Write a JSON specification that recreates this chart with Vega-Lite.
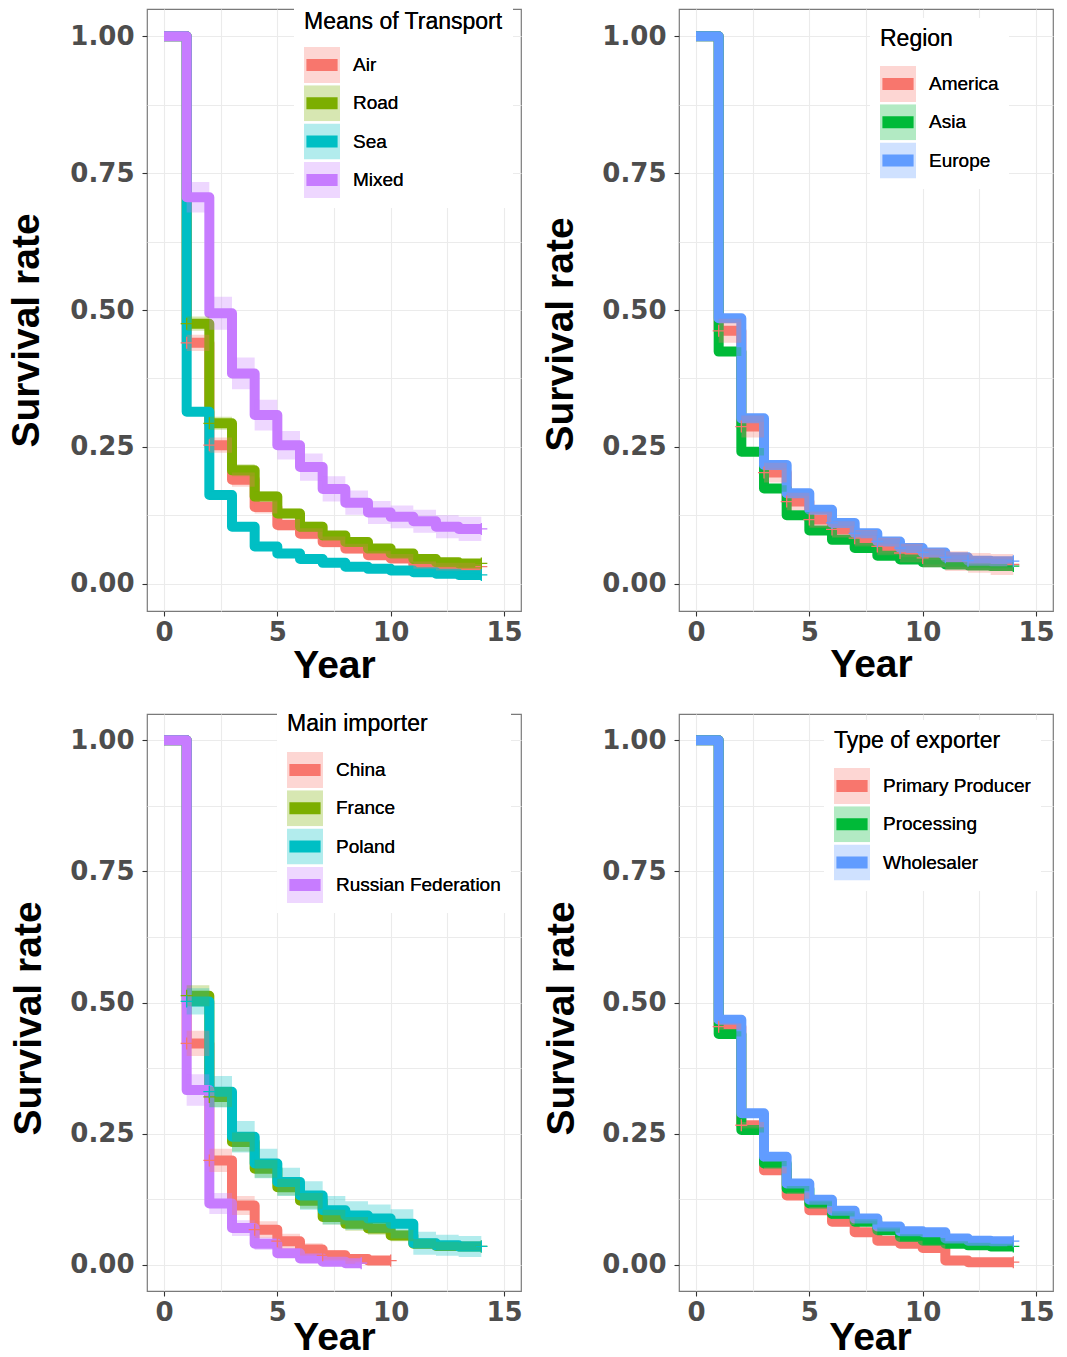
{
"$schema": "https://vega.github.io/schema/vega-lite/v6.json",
"background": "white",
"padding": {"left": 6, "top": 0, "right": 8, "bottom": 0},
"datasets": {
"p1": [
{"g":"Air","t":0,"s":1,"lo":1,"hi":1},{"g":"Air","t":1,"s":0.44,"lo":0.425,"hi":0.455},{"g":"Air","t":2,"s":0.253,"lo":0.239,"hi":0.267},{"g":"Air","t":3,"s":0.19,"lo":0.177,"hi":0.203},{"g":"Air","t":4,"s":0.14,"lo":0.128,"hi":0.152},{"g":"Air","t":5,"s":0.107,"lo":0.096,"hi":0.118},{"g":"Air","t":6,"s":0.091,"lo":0.081,"hi":0.101},{"g":"Air","t":7,"s":0.076,"lo":0.066,"hi":0.086},{"g":"Air","t":8,"s":0.064,"lo":0.055,"hi":0.073},{"g":"Air","t":9,"s":0.052,"lo":0.044,"hi":0.06},{"g":"Air","t":10,"s":0.046,"lo":0.038,"hi":0.054},{"g":"Air","t":11,"s":0.034,"lo":0.027,"hi":0.041},{"g":"Air","t":12,"s":0.031,"lo":0.024,"hi":0.038},{"g":"Air","t":13,"s":0.031,"lo":0.024,"hi":0.038},{"g":"Air","t":14,"s":0.031,"lo":0.024,"hi":0.038},
{"g":"Road","t":0,"s":1,"lo":1,"hi":1},{"g":"Road","t":1,"s":0.475,"lo":0.462,"hi":0.488},{"g":"Road","t":2,"s":0.293,"lo":0.281,"hi":0.305},{"g":"Road","t":3,"s":0.207,"lo":0.196,"hi":0.218},{"g":"Road","t":4,"s":0.159,"lo":0.149,"hi":0.169},{"g":"Road","t":5,"s":0.128,"lo":0.119,"hi":0.137},{"g":"Road","t":6,"s":0.104,"lo":0.095,"hi":0.113},{"g":"Road","t":7,"s":0.088,"lo":0.08,"hi":0.096},{"g":"Road","t":8,"s":0.076,"lo":0.068,"hi":0.084},{"g":"Road","t":9,"s":0.064,"lo":0.057,"hi":0.071},{"g":"Road","t":10,"s":0.055,"lo":0.048,"hi":0.062},{"g":"Road","t":11,"s":0.045,"lo":0.039,"hi":0.051},{"g":"Road","t":12,"s":0.039,"lo":0.033,"hi":0.045},{"g":"Road","t":13,"s":0.037,"lo":0.031,"hi":0.043},{"g":"Road","t":14,"s":0.037,"lo":0.031,"hi":0.043},
{"g":"Sea","t":0,"s":1,"lo":1,"hi":1},{"g":"Sea","t":1,"s":0.314,"lo":0.307,"hi":0.321},{"g":"Sea","t":2,"s":0.162,"lo":0.156,"hi":0.168},{"g":"Sea","t":3,"s":0.104,"lo":0.099,"hi":0.109},{"g":"Sea","t":4,"s":0.068,"lo":0.064,"hi":0.072},{"g":"Sea","t":5,"s":0.055,"lo":0.051,"hi":0.059},{"g":"Sea","t":6,"s":0.045,"lo":0.041,"hi":0.049},{"g":"Sea","t":7,"s":0.038,"lo":0.035,"hi":0.041},{"g":"Sea","t":8,"s":0.031,"lo":0.028,"hi":0.034},{"g":"Sea","t":9,"s":0.027,"lo":0.024,"hi":0.03},{"g":"Sea","t":10,"s":0.024,"lo":0.021,"hi":0.027},{"g":"Sea","t":11,"s":0.021,"lo":0.018,"hi":0.024},{"g":"Sea","t":12,"s":0.018,"lo":0.015,"hi":0.021},{"g":"Sea","t":13,"s":0.016,"lo":0.013,"hi":0.019},{"g":"Sea","t":14,"s":0.016,"lo":0.013,"hi":0.019},
{"g":"Mixed","t":0,"s":1,"lo":1,"hi":1},{"g":"Mixed","t":1,"s":0.706,"lo":0.678,"hi":0.734},{"g":"Mixed","t":2,"s":0.494,"lo":0.464,"hi":0.524},{"g":"Mixed","t":3,"s":0.384,"lo":0.355,"hi":0.413},{"g":"Mixed","t":4,"s":0.308,"lo":0.28,"hi":0.336},{"g":"Mixed","t":5,"s":0.253,"lo":0.227,"hi":0.279},{"g":"Mixed","t":6,"s":0.213,"lo":0.188,"hi":0.238},{"g":"Mixed","t":7,"s":0.173,"lo":0.15,"hi":0.196},{"g":"Mixed","t":8,"s":0.148,"lo":0.126,"hi":0.17},{"g":"Mixed","t":9,"s":0.13,"lo":0.109,"hi":0.151},{"g":"Mixed","t":10,"s":0.122,"lo":0.101,"hi":0.143},{"g":"Mixed","t":11,"s":0.114,"lo":0.093,"hi":0.135},{"g":"Mixed","t":12,"s":0.104,"lo":0.083,"hi":0.125},{"g":"Mixed","t":13,"s":0.1,"lo":0.078,"hi":0.122},{"g":"Mixed","t":14,"s":0.1,"lo":0.078,"hi":0.122}
],
"c1": [
{"g":"Air","t":1,"s":0.44},{"g":"Air","t":2,"s":0.253},{"g":"Air","t":14,"s":0.031},
{"g":"Road","t":1,"s":0.475},{"g":"Road","t":2,"s":0.293},{"g":"Road","t":14,"s":0.037},
{"g":"Sea","t":14,"s":0.016},
{"g":"Mixed","t":14,"s":0.1}
],
"p2": [
{"g":"America","t":0,"s":1,"lo":1,"hi":1},{"g":"America","t":1,"s":0.462,"lo":0.44,"hi":0.484},{"g":"America","t":2,"s":0.287,"lo":0.267,"hi":0.307},{"g":"America","t":3,"s":0.203,"lo":0.185,"hi":0.221},{"g":"America","t":4,"s":0.15,"lo":0.134,"hi":0.166},{"g":"America","t":5,"s":0.117,"lo":0.102,"hi":0.132},{"g":"America","t":6,"s":0.099,"lo":0.084,"hi":0.114},{"g":"America","t":7,"s":0.083,"lo":0.068,"hi":0.098},{"g":"America","t":8,"s":0.068,"lo":0.052,"hi":0.084},{"g":"America","t":9,"s":0.056,"lo":0.039,"hi":0.073},{"g":"America","t":10,"s":0.047,"lo":0.03,"hi":0.064},{"g":"America","t":11,"s":0.041,"lo":0.023,"hi":0.059},{"g":"America","t":12,"s":0.038,"lo":0.02,"hi":0.056},{"g":"America","t":13,"s":0.035,"lo":0.016,"hi":0.054},{"g":"America","t":14,"s":0.035,"lo":0.016,"hi":0.054},
{"g":"Asia","t":0,"s":1,"lo":1,"hi":1},{"g":"Asia","t":1,"s":0.424,"lo":0.416,"hi":0.432},{"g":"Asia","t":2,"s":0.241,"lo":0.234,"hi":0.248},{"g":"Asia","t":3,"s":0.174,"lo":0.168,"hi":0.18},{"g":"Asia","t":4,"s":0.125,"lo":0.119,"hi":0.131},{"g":"Asia","t":5,"s":0.097,"lo":0.092,"hi":0.102},{"g":"Asia","t":6,"s":0.08,"lo":0.075,"hi":0.085},{"g":"Asia","t":7,"s":0.065,"lo":0.06,"hi":0.07},{"g":"Asia","t":8,"s":0.051,"lo":0.047,"hi":0.055},{"g":"Asia","t":9,"s":0.044,"lo":0.04,"hi":0.048},{"g":"Asia","t":10,"s":0.039,"lo":0.035,"hi":0.043},{"g":"Asia","t":11,"s":0.035,"lo":0.031,"hi":0.039},{"g":"Asia","t":12,"s":0.033,"lo":0.029,"hi":0.037},{"g":"Asia","t":13,"s":0.032,"lo":0.028,"hi":0.036},{"g":"Asia","t":14,"s":0.032,"lo":0.028,"hi":0.036},
{"g":"Europe","t":0,"s":1,"lo":1,"hi":1},{"g":"Europe","t":1,"s":0.485,"lo":0.478,"hi":0.492},{"g":"Europe","t":2,"s":0.302,"lo":0.296,"hi":0.308},{"g":"Europe","t":3,"s":0.217,"lo":0.211,"hi":0.223},{"g":"Europe","t":4,"s":0.165,"lo":0.16,"hi":0.17},{"g":"Europe","t":5,"s":0.135,"lo":0.13,"hi":0.14},{"g":"Europe","t":6,"s":0.111,"lo":0.106,"hi":0.116},{"g":"Europe","t":7,"s":0.092,"lo":0.088,"hi":0.096},{"g":"Europe","t":8,"s":0.077,"lo":0.073,"hi":0.081},{"g":"Europe","t":9,"s":0.065,"lo":0.061,"hi":0.069},{"g":"Europe","t":10,"s":0.057,"lo":0.053,"hi":0.061},{"g":"Europe","t":11,"s":0.048,"lo":0.044,"hi":0.052},{"g":"Europe","t":12,"s":0.042,"lo":0.038,"hi":0.046},{"g":"Europe","t":13,"s":0.041,"lo":0.037,"hi":0.045},{"g":"Europe","t":14,"s":0.041,"lo":0.037,"hi":0.045}
],
"c2": [
{"g":"America","t":1,"s":0.462},{"g":"America","t":2,"s":0.287},{"g":"America","t":3,"s":0.203},{"g":"America","t":4,"s":0.15},{"g":"America","t":5,"s":0.117},{"g":"America","t":6,"s":0.099},{"g":"America","t":7,"s":0.083},{"g":"America","t":8,"s":0.068},{"g":"America","t":9,"s":0.056},{"g":"America","t":10,"s":0.047},{"g":"America","t":14,"s":0.035},
{"g":"Asia","t":14,"s":0.032},
{"g":"Europe","t":6,"s":0.111},{"g":"Europe","t":7,"s":0.092},{"g":"Europe","t":8,"s":0.077},{"g":"Europe","t":9,"s":0.065},{"g":"Europe","t":10,"s":0.057},{"g":"Europe","t":11,"s":0.048},{"g":"Europe","t":12,"s":0.042},{"g":"Europe","t":14,"s":0.041}
],
"p3": [
{"g":"China","t":0,"s":1,"lo":1,"hi":1},{"g":"China","t":1,"s":0.422,"lo":0.398,"hi":0.446},{"g":"China","t":2,"s":0.199,"lo":0.177,"hi":0.221},{"g":"China","t":3,"s":0.113,"lo":0.095,"hi":0.131},{"g":"China","t":4,"s":0.067,"lo":0.051,"hi":0.083},{"g":"China","t":5,"s":0.045,"lo":0.031,"hi":0.059},{"g":"China","t":6,"s":0.029,"lo":0.017,"hi":0.041},{"g":"China","t":7,"s":0.018,"lo":0.008,"hi":0.028},{"g":"China","t":8,"s":0.011,"lo":0.002,"hi":0.02},{"g":"China","t":9,"s":0.008,"lo":0,"hi":0.016},{"g":"China","t":10,"s":0.008,"lo":0,"hi":0.016},
{"g":"France","t":0,"s":1,"lo":1,"hi":1},{"g":"France","t":1,"s":0.513,"lo":0.493,"hi":0.533},{"g":"France","t":2,"s":0.32,"lo":0.301,"hi":0.339},{"g":"France","t":3,"s":0.234,"lo":0.216,"hi":0.252},{"g":"France","t":4,"s":0.183,"lo":0.166,"hi":0.2},{"g":"France","t":5,"s":0.148,"lo":0.132,"hi":0.164},{"g":"France","t":6,"s":0.122,"lo":0.107,"hi":0.137},{"g":"France","t":7,"s":0.091,"lo":0.077,"hi":0.105},{"g":"France","t":8,"s":0.078,"lo":0.065,"hi":0.091},{"g":"France","t":9,"s":0.069,"lo":0.057,"hi":0.081},{"g":"France","t":10,"s":0.056,"lo":0.045,"hi":0.067},{"g":"France","t":11,"s":0.04,"lo":0.031,"hi":0.049},{"g":"France","t":12,"s":0.036,"lo":0.028,"hi":0.044},{"g":"France","t":13,"s":0.035,"lo":0.027,"hi":0.043},{"g":"France","t":14,"s":0.035,"lo":0.027,"hi":0.043},
{"g":"Poland","t":0,"s":1,"lo":1,"hi":1},{"g":"Poland","t":1,"s":0.502,"lo":0.477,"hi":0.527},{"g":"Poland","t":2,"s":0.33,"lo":0.3,"hi":0.36},{"g":"Poland","t":3,"s":0.244,"lo":0.214,"hi":0.274},{"g":"Poland","t":4,"s":0.193,"lo":0.165,"hi":0.221},{"g":"Poland","t":5,"s":0.158,"lo":0.131,"hi":0.185},{"g":"Poland","t":6,"s":0.132,"lo":0.105,"hi":0.159},{"g":"Poland","t":7,"s":0.104,"lo":0.077,"hi":0.131},{"g":"Poland","t":8,"s":0.094,"lo":0.067,"hi":0.121},{"g":"Poland","t":9,"s":0.088,"lo":0.061,"hi":0.115},{"g":"Poland","t":10,"s":0.078,"lo":0.05,"hi":0.106},{"g":"Poland","t":11,"s":0.041,"lo":0.019,"hi":0.063},{"g":"Poland","t":12,"s":0.037,"lo":0.017,"hi":0.057},{"g":"Poland","t":13,"s":0.035,"lo":0.015,"hi":0.055},{"g":"Poland","t":14,"s":0.035,"lo":0.015,"hi":0.055},
{"g":"Russian Federation","t":0,"s":1,"lo":1,"hi":1},{"g":"Russian Federation","t":1,"s":0.333,"lo":0.303,"hi":0.363},{"g":"Russian Federation","t":2,"s":0.117,"lo":0.097,"hi":0.137},{"g":"Russian Federation","t":3,"s":0.07,"lo":0.055,"hi":0.085},{"g":"Russian Federation","t":4,"s":0.04,"lo":0.028,"hi":0.052},{"g":"Russian Federation","t":5,"s":0.022,"lo":0.013,"hi":0.031},{"g":"Russian Federation","t":6,"s":0.012,"lo":0.005,"hi":0.019},{"g":"Russian Federation","t":7,"s":0.006,"lo":0.001,"hi":0.011},{"g":"Russian Federation","t":8,"s":0.003,"lo":0,"hi":0.007},{"g":"Russian Federation","t":8.7,"s":0.003,"lo":0,"hi":0.007}
],
"c3": [
{"g":"China","t":1,"s":0.422},{"g":"China","t":2,"s":0.199},{"g":"China","t":4,"s":0.067},{"g":"China","t":5,"s":0.045},{"g":"China","t":7,"s":0.018},{"g":"China","t":10,"s":0.008},
{"g":"France","t":1,"s":0.513},{"g":"France","t":2,"s":0.32},{"g":"France","t":14,"s":0.035},
{"g":"Poland","t":1,"s":0.502},{"g":"Poland","t":2,"s":0.33},{"g":"Poland","t":14,"s":0.035},
{"g":"Russian Federation","t":8.7,"s":0.003}
],
"p4": [
{"g":"Primary Producer","t":0,"s":1,"lo":1,"hi":1},{"g":"Primary Producer","t":1,"s":0.454,"lo":0.448,"hi":0.46},{"g":"Primary Producer","t":2,"s":0.266,"lo":0.26,"hi":0.272},{"g":"Primary Producer","t":3,"s":0.18,"lo":0.174,"hi":0.186},{"g":"Primary Producer","t":4,"s":0.132,"lo":0.126,"hi":0.138},{"g":"Primary Producer","t":5,"s":0.104,"lo":0.098,"hi":0.11},{"g":"Primary Producer","t":6,"s":0.082,"lo":0.076,"hi":0.088},{"g":"Primary Producer","t":7,"s":0.062,"lo":0.056,"hi":0.068},{"g":"Primary Producer","t":8,"s":0.046,"lo":0.04,"hi":0.052},{"g":"Primary Producer","t":9,"s":0.04,"lo":0.034,"hi":0.046},{"g":"Primary Producer","t":10,"s":0.032,"lo":0.026,"hi":0.038},{"g":"Primary Producer","t":11,"s":0.008,"lo":0.003,"hi":0.013},{"g":"Primary Producer","t":12,"s":0.005,"lo":0.001,"hi":0.009},{"g":"Primary Producer","t":13,"s":0.005,"lo":0.001,"hi":0.009},{"g":"Primary Producer","t":14,"s":0.005,"lo":0.001,"hi":0.009},
{"g":"Processing","t":0,"s":1,"lo":1,"hi":1},{"g":"Processing","t":1,"s":0.44,"lo":0.435,"hi":0.445},{"g":"Processing","t":2,"s":0.257,"lo":0.252,"hi":0.262},{"g":"Processing","t":3,"s":0.193,"lo":0.188,"hi":0.198},{"g":"Processing","t":4,"s":0.145,"lo":0.14,"hi":0.15},{"g":"Processing","t":5,"s":0.117,"lo":0.112,"hi":0.122},{"g":"Processing","t":6,"s":0.097,"lo":0.092,"hi":0.102},{"g":"Processing","t":7,"s":0.082,"lo":0.077,"hi":0.087},{"g":"Processing","t":8,"s":0.066,"lo":0.061,"hi":0.071},{"g":"Processing","t":9,"s":0.053,"lo":0.048,"hi":0.058},{"g":"Processing","t":10,"s":0.046,"lo":0.041,"hi":0.051},{"g":"Processing","t":11,"s":0.04,"lo":0.035,"hi":0.045},{"g":"Processing","t":12,"s":0.037,"lo":0.032,"hi":0.042},{"g":"Processing","t":13,"s":0.035,"lo":0.03,"hi":0.04},{"g":"Processing","t":14,"s":0.035,"lo":0.03,"hi":0.04},
{"g":"Wholesaler","t":0,"s":1,"lo":1,"hi":1},{"g":"Wholesaler","t":1,"s":0.467,"lo":0.462,"hi":0.472},{"g":"Wholesaler","t":2,"s":0.289,"lo":0.284,"hi":0.294},{"g":"Wholesaler","t":3,"s":0.206,"lo":0.201,"hi":0.211},{"g":"Wholesaler","t":4,"s":0.155,"lo":0.15,"hi":0.16},{"g":"Wholesaler","t":5,"s":0.124,"lo":0.119,"hi":0.129},{"g":"Wholesaler","t":6,"s":0.103,"lo":0.098,"hi":0.108},{"g":"Wholesaler","t":7,"s":0.088,"lo":0.083,"hi":0.093},{"g":"Wholesaler","t":8,"s":0.073,"lo":0.068,"hi":0.078},{"g":"Wholesaler","t":9,"s":0.064,"lo":0.059,"hi":0.069},{"g":"Wholesaler","t":10,"s":0.062,"lo":0.057,"hi":0.067},{"g":"Wholesaler","t":11,"s":0.05,"lo":0.045,"hi":0.055},{"g":"Wholesaler","t":12,"s":0.046,"lo":0.041,"hi":0.051},{"g":"Wholesaler","t":13,"s":0.045,"lo":0.04,"hi":0.05},{"g":"Wholesaler","t":14,"s":0.045,"lo":0.04,"hi":0.05}
],
"c4": [
{"g":"Primary Producer","t":1,"s":0.454},{"g":"Primary Producer","t":2,"s":0.266},{"g":"Primary Producer","t":14,"s":0.005},
{"g":"Processing","t":14,"s":0.035},
{"g":"Wholesaler","t":14,"s":0.045}
]
},
"columns": 2,
"spacing": {"row": 103, "column": 158},
"bounds": "flush",
"resolve": {"scale": {"x": "independent", "y": "independent", "stroke": "independent", "fill": "independent"}, "legend": {"stroke": "independent", "fill": "independent"}},
"concat": [
{
"width": 374, "height": 602,
"data": {"name": "p1"},
"layer": [
{"mark": {"type": "line", "interpolate": "step-after", "strokeWidth": 10, "strokeJoin": "round"},
"encoding": {
"x": {"field": "t", "type": "quantitative", "title": "Year", "scale": {"domain": [-0.75, 15.75], "nice": false, "zero": false}, "axis": {"values": [0, 2.5, 5, 7.5, 10, 12.5, 15], "labelExpr": "datum.value % 5 === 0 ? datum.label : ''", "tickOpacity": {"condition": {"test": "datum.value % 5 !== 0", "value": 0}, "value": 1}, "titleX": 187, "titleY": 66}},
"y": {"field": "s", "type": "quantitative", "title": "Survival rate", "scale": {"domain": [-0.05, 1.05], "nice": false, "zero": false}, "axis": {"values": [0, 0.125, 0.25, 0.375, 0.5, 0.625, 0.75, 0.875, 1], "format": ".2f", "labelExpr": "(datum.value * 4) % 1 === 0 ? datum.label : ''", "tickOpacity": {"condition": {"test": "(datum.value * 4) % 1 !== 0", "value": 0}, "value": 1}, "titleX": -109, "titleY": 321}},
"stroke": {"field": "g", "type": "nominal", "scale": {"domain": ["Air", "Road", "Sea", "Mixed"], "range": ["#F8766D", "#7CAE00", "#00BFC4", "#C77CFF"]},
"legend": {"title": "Means of Transport", "legendX": 147, "legendY": -8, "titlePadding": 13, "clipHeight": 36, "symbolType": "M-1.3,0H1.3", "symbolSize": 576, "symbolStrokeWidth": 12, "symbolOpacity": 1, "zindex": 2, "encode": {"symbols": {"update": {"strokeWidth": {"value": 12}, "fill": {"value": "transparent"}}}}}}
}},
{"mark": {"type": "area", "interpolate": "step-after", "opacity": 0.3},
"encoding": {
"x": {"field": "t", "type": "quantitative", "title": "Year"},
"y": {"field": "lo", "type": "quantitative", "title": "Survival rate"},
"y2": {"field": "hi"},
"fill": {"field": "g", "type": "nominal", "sort": ["Air", "Road", "Sea", "Mixed"], "scale": {"range": ["#F8766D", "#7CAE00", "#00BFC4", "#C77CFF"]},
"legend": {"title": "Means of Transport", "legendX": 147, "legendY": -8, "titlePadding": 13, "clipHeight": 36, "symbolType": "square", "symbolSize": 1296, "symbolStrokeWidth": 0, "symbolOpacity": 0.3, "fillColor": "white", "zindex": 1}}
}},
{"data": {"name": "c1"}, "mark": {"type": "point", "shape": "M-1,0H1M0,-1V1", "filled": false, "size": 144, "strokeWidth": 1.3, "opacity": 1},
"encoding": {
"x": {"field": "t", "type": "quantitative", "title": "Year"},
"y": {"field": "s", "type": "quantitative", "title": "Survival rate"},
"stroke": {"field": "g", "type": "nominal", "scale": {"domain": ["Air", "Road", "Sea", "Mixed"], "range": ["#F8766D", "#7CAE00", "#00BFC4", "#C77CFF"]}}
}}
]
},
{
"width": 374, "height": 602,
"data": {"name": "p2"},
"layer": [
{"mark": {"type": "line", "interpolate": "step-after", "strokeWidth": 10, "strokeJoin": "round"},
"encoding": {
"x": {"field": "t", "type": "quantitative", "title": "Year", "scale": {"domain": [-0.75, 15.75], "nice": false, "zero": false}, "axis": {"values": [0, 2.5, 5, 7.5, 10, 12.5, 15], "labelExpr": "datum.value % 5 === 0 ? datum.label : ''", "tickOpacity": {"condition": {"test": "datum.value % 5 !== 0", "value": 0}, "value": 1}, "titleX": 192, "titleY": 65}},
"y": {"field": "s", "type": "quantitative", "title": "Survival rate", "scale": {"domain": [-0.05, 1.05], "nice": false, "zero": false}, "axis": {"values": [0, 0.125, 0.25, 0.375, 0.5, 0.625, 0.75, 0.875, 1], "format": ".2f", "labelExpr": "(datum.value * 4) % 1 === 0 ? datum.label : ''", "tickOpacity": {"condition": {"test": "(datum.value * 4) % 1 !== 0", "value": 0}, "value": 1}, "titleX": -107, "titleY": 325}},
"stroke": {"field": "g", "type": "nominal", "scale": {"domain": ["America", "Asia", "Europe"], "range": ["#F8766D", "#00BA38", "#619CFF"]},
"legend": {"title": "Region", "legendX": 191, "legendY": 9, "titlePadding": 15, "clipHeight": 36, "symbolType": "M-1.3,0H1.3", "symbolSize": 576, "symbolStrokeWidth": 12, "symbolOpacity": 1, "zindex": 2, "encode": {"symbols": {"update": {"strokeWidth": {"value": 12}, "fill": {"value": "transparent"}}}}}}
}},
{"mark": {"type": "area", "interpolate": "step-after", "opacity": 0.3},
"encoding": {
"x": {"field": "t", "type": "quantitative", "title": "Year"},
"y": {"field": "lo", "type": "quantitative", "title": "Survival rate"},
"y2": {"field": "hi"},
"fill": {"field": "g", "type": "nominal", "sort": ["America", "Asia", "Europe"], "scale": {"range": ["#F8766D", "#00BA38", "#619CFF"]},
"legend": {"title": "Region", "legendX": 191, "legendY": 9, "titlePadding": 15, "clipHeight": 36, "symbolType": "square", "symbolSize": 1296, "symbolStrokeWidth": 0, "symbolOpacity": 0.3, "fillColor": "white", "zindex": 1}}
}},
{"data": {"name": "c2"}, "mark": {"type": "point", "shape": "M-1,0H1M0,-1V1", "filled": false, "size": 144, "strokeWidth": 1.3, "opacity": 1},
"encoding": {
"x": {"field": "t", "type": "quantitative", "title": "Year"},
"y": {"field": "s", "type": "quantitative", "title": "Survival rate"},
"stroke": {"field": "g", "type": "nominal", "scale": {"domain": ["America", "Asia", "Europe"], "range": ["#F8766D", "#00BA38", "#619CFF"]}}
}}
]
},
{
"width": 374, "height": 577,
"data": {"name": "p3"},
"layer": [
{"mark": {"type": "line", "interpolate": "step-after", "strokeWidth": 10, "strokeJoin": "round"},
"encoding": {
"x": {"field": "t", "type": "quantitative", "title": "Year", "scale": {"domain": [-0.75, 15.75], "nice": false, "zero": false}, "axis": {"values": [0, 2.5, 5, 7.5, 10, 12.5, 15], "labelExpr": "datum.value % 5 === 0 ? datum.label : ''", "tickOpacity": {"condition": {"test": "datum.value % 5 !== 0", "value": 0}, "value": 1}, "titleX": 187, "titleY": 58}},
"y": {"field": "s", "type": "quantitative", "title": "Survival rate", "scale": {"domain": [-0.05, 1.05], "nice": false, "zero": false}, "axis": {"values": [0, 0.125, 0.25, 0.375, 0.5, 0.625, 0.75, 0.875, 1], "format": ".2f", "labelExpr": "(datum.value * 4) % 1 === 0 ? datum.label : ''", "tickOpacity": {"condition": {"test": "(datum.value * 4) % 1 !== 0", "value": 0}, "value": 1}, "titleX": -107, "titleY": 304}},
"stroke": {"field": "g", "type": "nominal", "scale": {"domain": ["China", "France", "Poland", "Russian Federation"], "range": ["#F8766D", "#7CAE00", "#00BFC4", "#C77CFF"]},
"legend": {"title": "Main importer", "legendX": 130, "legendY": -11, "titlePadding": 16, "clipHeight": 36, "symbolType": "M-1.3,0H1.3", "symbolSize": 576, "symbolStrokeWidth": 12, "symbolOpacity": 1, "zindex": 2, "encode": {"symbols": {"update": {"strokeWidth": {"value": 12}, "fill": {"value": "transparent"}}}}}}
}},
{"mark": {"type": "area", "interpolate": "step-after", "opacity": 0.3},
"encoding": {
"x": {"field": "t", "type": "quantitative", "title": "Year"},
"y": {"field": "lo", "type": "quantitative", "title": "Survival rate"},
"y2": {"field": "hi"},
"fill": {"field": "g", "type": "nominal", "sort": ["China", "France", "Poland", "Russian Federation"], "scale": {"range": ["#F8766D", "#7CAE00", "#00BFC4", "#C77CFF"]},
"legend": {"title": "Main importer", "legendX": 130, "legendY": -11, "titlePadding": 16, "clipHeight": 36, "symbolType": "square", "symbolSize": 1296, "symbolStrokeWidth": 0, "symbolOpacity": 0.3, "fillColor": "white", "zindex": 1}}
}},
{"data": {"name": "c3"}, "mark": {"type": "point", "shape": "M-1,0H1M0,-1V1", "filled": false, "size": 144, "strokeWidth": 1.3, "opacity": 1},
"encoding": {
"x": {"field": "t", "type": "quantitative", "title": "Year"},
"y": {"field": "s", "type": "quantitative", "title": "Survival rate"},
"stroke": {"field": "g", "type": "nominal", "scale": {"domain": ["China", "France", "Poland", "Russian Federation"], "range": ["#F8766D", "#7CAE00", "#00BFC4", "#C77CFF"]}}
}}
]
},
{
"width": 374, "height": 577,
"data": {"name": "p4"},
"layer": [
{"mark": {"type": "line", "interpolate": "step-after", "strokeWidth": 10, "strokeJoin": "round"},
"encoding": {
"x": {"field": "t", "type": "quantitative", "title": "Year", "scale": {"domain": [-0.75, 15.75], "nice": false, "zero": false}, "axis": {"values": [0, 2.5, 5, 7.5, 10, 12.5, 15], "labelExpr": "datum.value % 5 === 0 ? datum.label : ''", "tickOpacity": {"condition": {"test": "datum.value % 5 !== 0", "value": 0}, "value": 1}, "titleX": 191, "titleY": 58}},
"y": {"field": "s", "type": "quantitative", "title": "Survival rate", "scale": {"domain": [-0.05, 1.05], "nice": false, "zero": false}, "axis": {"values": [0, 0.125, 0.25, 0.375, 0.5, 0.625, 0.75, 0.875, 1], "format": ".2f", "labelExpr": "(datum.value * 4) % 1 === 0 ? datum.label : ''", "tickOpacity": {"condition": {"test": "(datum.value * 4) % 1 !== 0", "value": 0}, "value": 1}, "titleX": -106, "titleY": 304}},
"stroke": {"field": "g", "type": "nominal", "scale": {"domain": ["Primary Producer", "Processing", "Wholesaler"], "range": ["#F8766D", "#00BA38", "#619CFF"]},
"legend": {"title": "Type of exporter", "legendX": 145, "legendY": 6, "titlePadding": 15, "clipHeight": 36, "symbolType": "M-1.3,0H1.3", "symbolSize": 576, "symbolStrokeWidth": 12, "symbolOpacity": 1, "zindex": 2, "encode": {"symbols": {"update": {"strokeWidth": {"value": 12}, "fill": {"value": "transparent"}}}}}}
}},
{"mark": {"type": "area", "interpolate": "step-after", "opacity": 0.3},
"encoding": {
"x": {"field": "t", "type": "quantitative", "title": "Year"},
"y": {"field": "lo", "type": "quantitative", "title": "Survival rate"},
"y2": {"field": "hi"},
"fill": {"field": "g", "type": "nominal", "sort": ["Primary Producer", "Processing", "Wholesaler"], "scale": {"range": ["#F8766D", "#00BA38", "#619CFF"]},
"legend": {"title": "Type of exporter", "legendX": 145, "legendY": 6, "titlePadding": 15, "clipHeight": 36, "symbolType": "square", "symbolSize": 1296, "symbolStrokeWidth": 0, "symbolOpacity": 0.3, "fillColor": "white", "zindex": 1}}
}},
{"data": {"name": "c4"}, "mark": {"type": "point", "shape": "M-1,0H1M0,-1V1", "filled": false, "size": 144, "strokeWidth": 1.3, "opacity": 1},
"encoding": {
"x": {"field": "t", "type": "quantitative", "title": "Year"},
"y": {"field": "s", "type": "quantitative", "title": "Survival rate"},
"stroke": {"field": "g", "type": "nominal", "scale": {"domain": ["Primary Producer", "Processing", "Wholesaler"], "range": ["#F8766D", "#00BA38", "#619CFF"]}}
}}
]
}
],
"config": {
"view": {"stroke": "#7A7A7A", "strokeWidth": 1.2},
"axis": {"domain": false, "grid": true, "gridColor": "#EBEBEB", "gridWidth": 1.1, "tickColor": "#333333", "tickSize": 5, "tickWidth": 1.1, "labelFont": "DejaVu Sans", "labelFontWeight": "bold", "labelFontSize": 26, "labelColor": "#4D4D4D", "titleFont": "Liberation Sans", "titleFontWeight": "bold", "titleFontSize": 39, "titleColor": "#000000", "titleAlign": "center", "titleBaseline": "alphabetic"},
"axisX": {"labelPadding": 3},
"axisY": {"labelPadding": 8, "titleAngle": 270},
"legend": {"orient": "none", "direction": "vertical", "titleFont": "Liberation Sans", "titleFontSize": 23, "titleFontWeight": "normal", "titleColor": "#000000", "titleLimit": 500, "labelFont": "Liberation Sans", "labelFontSize": 19, "labelColor": "#000000", "labelLimit": 500, "rowPadding": 2.3, "labelOffset": 13, "padding": 10, "symbolOffset": 0}
}
}
